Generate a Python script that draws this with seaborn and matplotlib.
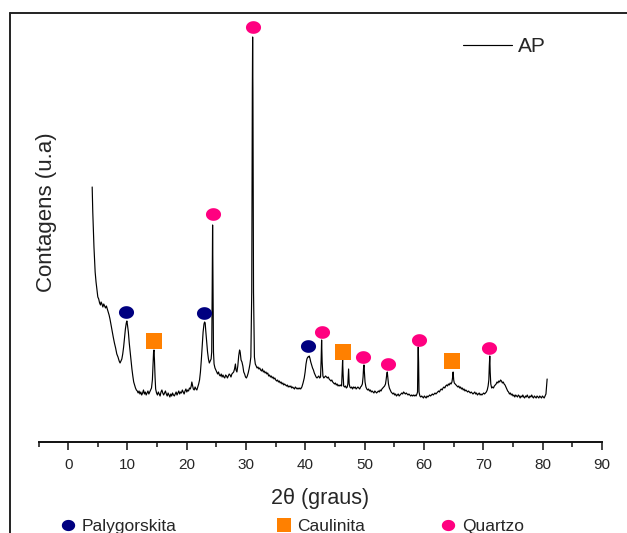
"""
XRD pattern of sample AP with phase markers (palygorskite, kaolinite, quartz).
"""

import numpy as np
import pandas as pd
import matplotlib
matplotlib.use("Agg")
import matplotlib.pyplot as plt
from matplotlib.lines import Line2D
from matplotlib.path import Path
from matplotlib.ticker import MultipleLocator
import seaborn as sns

# diffractogram (2theta in degrees, counts in arbitrary units)
TWO_THETA = [
    4.05, 4.15, 4.25, 4.35, 4.45, 4.55, 4.7, 4.85, 5.0, 5.15, 5.3, 5.45, 5.55, 5.7, 5.85,
    6.0, 6.15, 6.3, 6.45, 6.6, 6.75, 6.9, 7.05, 7.2, 7.4, 7.6, 7.8, 8.0, 8.2, 8.4,
    8.6, 8.75, 8.9, 9.05, 9.2, 9.35, 9.5, 9.65, 9.8, 9.9, 10.0, 10.15, 10.3, 10.45, 10.6,
    10.75, 10.9, 11.05, 11.2, 11.35, 11.5, 11.65, 11.8, 11.95, 12.1, 12.25, 12.4, 12.55, 12.7, 12.85,
    13.0, 13.15, 13.3, 13.45, 13.6, 13.75, 13.9, 14.05, 14.2, 14.3, 14.4, 14.47, 14.55, 14.65, 14.75,
    14.9, 15.05, 15.2, 15.35, 15.5, 15.65, 15.8, 15.95, 16.1, 16.25, 16.4, 16.55, 16.7, 16.85, 17.0,
    17.15, 17.3, 17.45, 17.6, 17.75, 17.9, 18.05, 18.2, 18.35, 18.5, 18.65, 18.8, 18.95, 19.1, 19.25,
    19.4, 19.55, 19.7, 19.85, 20.0, 20.15, 20.3, 20.45, 20.6, 20.75, 20.85, 20.95, 21.1, 21.25, 21.4,
    21.55, 21.7, 21.85, 22.0, 22.15, 22.3, 22.45, 22.6, 22.75, 22.9, 23.0, 23.1, 23.2, 23.35, 23.5,
    23.65, 23.8, 23.95, 24.1, 24.2, 24.28, 24.35, 24.42, 24.5, 24.6, 24.75, 24.9, 25.05, 25.2, 25.35,
    25.5, 25.65, 25.8, 25.95, 26.1, 26.25, 26.4, 26.55, 26.7, 26.85, 27.0, 27.15, 27.3, 27.45, 27.6,
    27.75, 27.9, 28.05, 28.2, 28.3, 28.45, 28.6, 28.75, 28.9, 29.0, 29.15, 29.3, 29.45, 29.6, 29.75,
    29.9, 30.05, 30.2, 30.35, 30.5, 30.65, 30.8, 30.95, 31.05, 31.1, 31.15, 31.25, 31.4, 31.55, 31.7,
    31.85, 32.0, 32.15, 32.3, 32.45, 32.6, 32.75, 32.9, 33.05, 33.2, 33.35, 33.5, 33.65, 33.8, 33.95,
    34.1, 34.25, 34.4, 34.55, 34.7, 34.85, 35.0, 35.15, 35.3, 35.45, 35.6, 35.75, 35.9, 36.05, 36.2,
    36.35, 36.5, 36.65, 36.8, 36.95, 37.1, 37.25, 37.4, 37.55, 37.7, 37.85, 38.0, 38.15, 38.3, 38.45,
    38.6, 38.75, 38.9, 39.05, 39.2, 39.4, 39.6, 39.8, 39.95, 40.1, 40.25, 40.4, 40.55, 40.64, 40.75,
    40.9, 41.05, 41.2, 41.35, 41.5, 41.65, 41.8, 41.95, 42.1, 42.25, 42.4, 42.55, 42.65, 42.73, 42.82,
    42.95, 43.1, 43.25, 43.4, 43.55, 43.7, 43.85, 44.0, 44.15, 44.3, 44.45, 44.6, 44.75, 44.9, 45.05,
    45.2, 45.35, 45.5, 45.65, 45.8, 45.95, 46.1, 46.2, 46.27, 46.35, 46.45, 46.6, 46.75, 46.9, 47.05,
    47.15, 47.28, 47.38, 47.5, 47.65, 47.8, 47.95, 48.1, 48.25, 48.4, 48.55, 48.7, 48.85, 49.0, 49.15,
    49.3, 49.45, 49.6, 49.72, 49.8, 49.87, 49.95, 50.05, 50.2, 50.35, 50.5, 50.65, 50.8, 50.95, 51.1,
    51.25, 51.4, 51.55, 51.7, 51.85, 52.0, 52.15, 52.3, 52.45, 52.6, 52.75, 52.9, 53.05, 53.2, 53.35,
    53.5, 53.6, 53.72, 53.8, 53.9, 54.0, 54.15, 54.3, 54.45, 54.6, 54.75, 54.9, 55.05, 55.2, 55.35,
    55.5, 55.65, 55.8, 55.95, 56.1, 56.25, 56.4, 56.55, 56.7, 56.85, 57.0, 57.15, 57.3, 57.45, 57.6,
    57.75, 57.9, 58.05, 58.2, 58.35, 58.5, 58.65, 58.8, 58.9, 58.96, 59.02, 59.08, 59.15, 59.3, 59.45,
    59.6, 59.75, 59.9, 60.05, 60.2, 60.35, 60.5, 60.65, 60.8, 60.95, 61.1, 61.25, 61.4, 61.55, 61.7,
    61.85, 62.0, 62.15, 62.3, 62.45, 62.6, 62.75, 62.9, 63.05, 63.2, 63.35, 63.5, 63.65, 63.8, 63.95,
    64.1, 64.25, 64.4, 64.55, 64.7, 64.8, 64.9, 65.0, 65.1, 65.25, 65.4, 65.55, 65.7, 65.85, 66.0,
    66.15, 66.3, 66.45, 66.6, 66.75, 66.9, 67.05, 67.2, 67.35, 67.5, 67.65, 67.8, 67.95, 68.1, 68.25,
    68.4, 68.55, 68.7, 68.85, 69.0, 69.15, 69.3, 69.45, 69.6, 69.75, 69.9, 70.05, 70.2, 70.35, 70.5,
    70.65, 70.8, 70.92, 71.0, 71.08, 71.15, 71.25, 71.4, 71.55, 71.7, 71.85, 72.0, 72.15, 72.3, 72.45,
    72.6, 72.75, 72.9, 73.05, 73.2, 73.35, 73.5, 73.65, 73.8, 73.95, 74.1, 74.25, 74.4, 74.55, 74.7,
    74.85, 75.0, 75.15, 75.3, 75.45, 75.6, 75.75, 75.9, 76.05, 76.2, 76.35, 76.5, 76.65, 76.8, 76.95,
    77.1, 77.25, 77.4, 77.55, 77.7, 77.85, 78.0, 78.15, 78.3, 78.45, 78.6, 78.75, 78.9, 79.05, 79.2,
    79.35, 79.5, 79.65, 79.8, 79.95, 80.1, 80.25, 80.4, 80.55, 80.65, 80.75,
]
COUNTS = [
    2550, 2300, 2120, 1950, 1830, 1700, 1600, 1520, 1450, 1430, 1390, 1370, 1400, 1380, 1350,
    1380, 1360, 1340, 1360, 1330, 1300, 1270, 1230, 1180, 1110, 1050, 990, 940, 880, 850,
    810, 790, 810, 830, 880, 950, 1040, 1130, 1190, 1210, 1170, 1100, 990, 900, 810,
    730, 660, 600, 570, 540, 520, 510, 490, 510, 480, 500, 470, 490, 520, 480,
    500, 470, 490, 510, 480, 500, 520, 540, 620, 760, 900, 920, 820, 650, 530,
    490, 470, 500, 480, 460, 500, 520, 490, 470, 490, 510, 480, 460, 490, 470,
    450, 480, 460, 490, 470, 460, 480, 500, 470, 490, 510, 480, 500, 490, 520,
    500, 480, 510, 530, 500, 520, 510, 540, 530, 560, 600, 570, 530, 520, 550,
    530, 520, 550, 580, 620, 700, 820, 960, 1100, 1180, 1200, 1190, 1110, 1010, 900,
    830, 790, 810, 830, 900, 1500, 2170, 1500, 900, 780, 740, 720, 700, 680, 700,
    670, 660, 680, 650, 670, 650, 640, 670, 660, 640, 660, 680, 670, 650, 680,
    690, 700, 730, 780, 720, 700, 760, 860, 920, 900, 820, 800, 760, 700, 680,
    650, 640, 660, 690, 730, 780, 850, 1500, 3500, 4050, 3500, 1500, 850, 780, 760,
    740, 750, 730, 740, 720, 710, 730, 700, 710, 690, 700, 680, 690, 660, 670,
    650, 660, 640, 650, 630, 640, 620, 610, 620, 600, 610, 590, 600, 580, 590,
    570, 580, 570, 560, 570, 550, 560, 550, 560, 540, 550, 540, 530, 550, 540,
    530, 540, 530, 540, 530, 550, 590, 640, 700, 780, 830, 850, 850, 860, 840,
    800, 770, 740, 720, 690, 670, 650, 640, 650, 660, 640, 650, 820, 1020, 800,
    660, 640, 650, 660, 650, 640, 650, 630, 620, 610, 620, 600, 590, 580, 590,
    570, 580, 560, 570, 560, 570, 560, 700, 820, 680, 560, 550, 560, 540, 550,
    580, 730, 580, 550, 540, 550, 530, 550, 540, 550, 530, 540, 550, 540, 530,
    550, 560, 580, 650, 740, 770, 700, 600, 550, 530, 520, 530, 510, 520, 500,
    510, 500, 490, 510, 500, 490, 500, 510, 500, 520, 510, 530, 540, 550, 560,
    580, 620, 680, 700, 640, 580, 540, 520, 500, 490, 480, 490, 470, 480, 460,
    470, 480, 460, 470, 480, 490, 480, 500, 490, 480, 490, 480, 470, 480, 470,
    460, 470, 460, 470, 460, 470, 460, 480, 500, 800, 950, 800, 500, 460, 450,
    460, 450, 440, 460, 450, 440, 460, 450, 460, 470, 460, 470, 480, 470, 480,
    490, 480, 490, 500, 510, 500, 520, 530, 520, 540, 550, 540, 560, 570, 560,
    580, 570, 590, 580, 600, 640, 700, 620, 590, 580, 570, 560, 550, 560, 540,
    550, 530, 540, 520, 530, 510, 520, 510, 500, 510, 500, 490, 500, 490, 480,
    490, 500, 480, 490, 470, 480, 490, 470, 480, 470, 480, 490, 480, 490, 500,
    520, 560, 620, 760, 860, 700, 580, 540, 550, 540, 560, 570, 580, 600, 590,
    610, 600, 620, 610, 590, 600, 580, 570, 550, 530, 510, 500, 480, 490, 470,
    480, 460, 470, 450, 470, 460, 450, 470, 460, 440, 460, 450, 470, 450, 440,
    460, 450, 470, 450, 440, 460, 450, 470, 450, 440, 460, 450, 440, 460, 450,
    440, 460, 450, 440, 460, 450, 440, 460, 480, 560, 630,
]

# phase markers (peak positions and marker heights)
PALY_X = [9.73, 22.9, 40.47]
PALY_Y = [1303, 1287, 963]
CAUL_X = [14.5, 46.37, 64.65]
CAUL_Y = [1013, 903, 813]
QTZ_X = [24.45, 31.1, 42.73, 49.75, 53.96, 59.14, 71.0]
QTZ_Y = [2277, 4150, 1103, 853, 780, 1020, 937]

X_TICKS = [0, 10, 20, 30, 40, 50, 60, 70, 80, 90]

NAVY = "#000080"
ORANGE = "#FF8000"
PINK = "#FF0080"

W, H = 627, 533

sns.set_style("white")
plt.rcParams["font.family"] = ["Liberation Sans", "DejaVu Sans"]

# slightly flattened circle, like the original markers
t = np.linspace(0, 2 * np.pi, 64)
ellipse = Path(np.column_stack([np.cos(t), 0.84 * np.sin(t)]), closed=True)

df = pd.DataFrame({"two_theta": TWO_THETA, "counts": COUNTS})

fig = plt.figure(figsize=(W / 100, H / 100), dpi=100)
ax = fig.add_axes([38.5 / W, 91 / H, 563.5 / W, 429 / H])

sns.lineplot(data=df, x="two_theta", y="counts", sort=False, estimator=None,
             color="#000000", linewidth=0.85, ax=ax)

sns.scatterplot(x=PALY_X, y=PALY_Y, marker=ellipse, s=118, color=NAVY,
                linewidth=0, ax=ax, zorder=3)
sns.scatterplot(x=CAUL_X, y=CAUL_Y, marker="s", s=125, color=ORANGE,
                linewidth=0, ax=ax, zorder=3)
sns.scatterplot(x=QTZ_X, y=QTZ_Y, marker=ellipse, s=118, color=PINK,
                linewidth=0, ax=ax, zorder=3)

ax.set_xlim(-5, 90)
ax.set_ylim(0, 4290)
ax.set_xticks(X_TICKS)
ax.xaxis.set_minor_locator(MultipleLocator(5))
ax.set_yticks([])
for side in ["left", "right", "top"]:
    ax.spines[side].set_visible(False)
ax.spines["bottom"].set_linewidth(1.4)
ax.spines["bottom"].set_color("#111111")
ax.tick_params(axis="x", which="major", direction="out", length=5.8, width=1.1,
               pad=6, labelsize=11, color="#111111", bottom=True)
ax.tick_params(axis="x", which="minor", direction="out", length=3.6, width=1.1,
               color="#111111", bottom=True)

ax.set_xlabel("2θ (graus)", fontsize=15.5, labelpad=11)
ax.set_ylabel("Contagens (u.a)", fontsize=16)
ax.yaxis.set_label_coords(0.033, 0.536)

ax.legend(handles=[ax.lines[0]], labels=["AP"], loc="center left",
          bbox_to_anchor=(463 / W, (H - 47) / H), bbox_transform=fig.transFigure,
          frameon=False, fontsize=15, handlelength=2.35, handletextpad=0.3,
          borderpad=0, borderaxespad=0)

# phase key along the bottom edge (cut by the edge, as in the original)
phase_keys = [
    ("Palygorskita", ellipse, NAVY, 9.6, 59.3),
    ("Caulinita", "s", ORANGE, 9.4, 274.9),
    ("Quartzo", ellipse, PINK, 9.6, 439.6),
]
for name, mk, col, ms, left in phase_keys:
    handle = Line2D([], [], marker=mk, color=col, linestyle="none",
                    markersize=ms, markeredgewidth=0)
    fig.legend(handles=[handle], labels=[name], loc="center left",
               bbox_to_anchor=(left / W, 7 / H), bbox_transform=fig.transFigure,
               frameon=False, fontsize=12.5, handlelength=1.0, handletextpad=0.3,
               borderpad=0, borderaxespad=0)

# frame lines of the original figure (left and top only)
fig.add_artist(Line2D([10 / W, 10 / W], [0, (H - 13) / H],
                      transform=fig.transFigure, color="#222222", linewidth=1.4))
fig.add_artist(Line2D([10 / W, 1], [(H - 13) / H, (H - 13) / H],
                      transform=fig.transFigure, color="#222222", linewidth=1.4))

fig.savefig("out.png", dpi=100)
